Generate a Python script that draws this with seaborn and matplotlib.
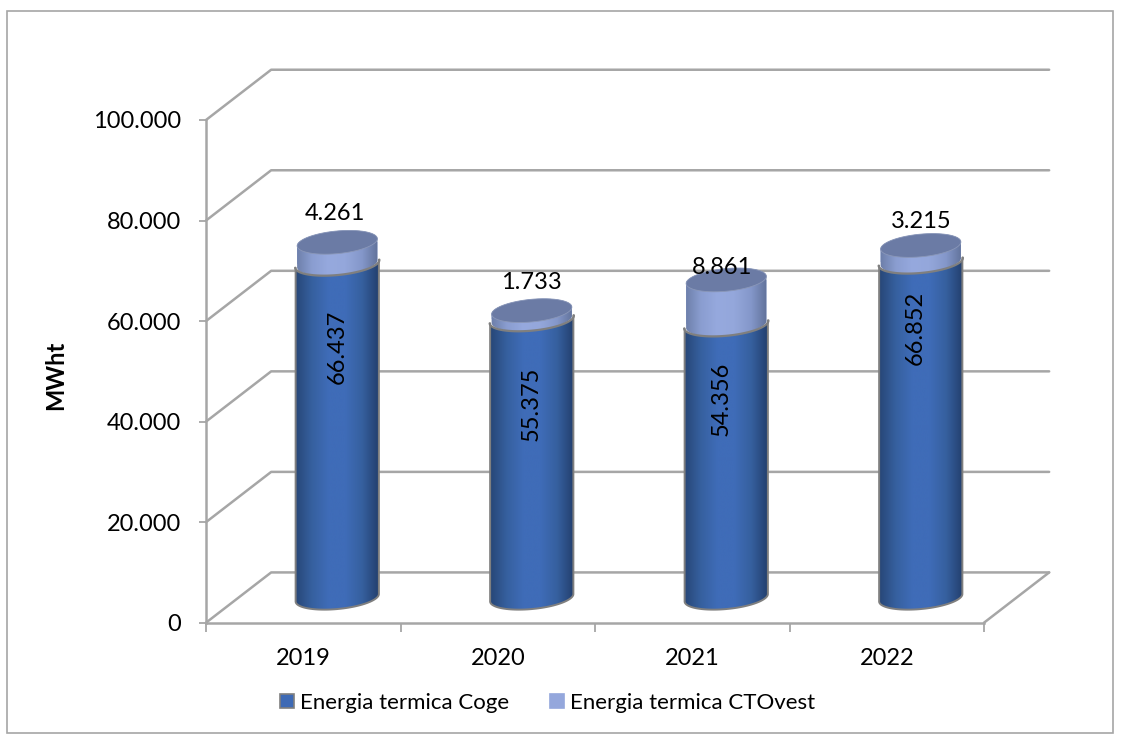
import numpy as np
import pandas as pd
import seaborn as sns
import matplotlib.pyplot as plt
from matplotlib.colors import LinearSegmentedColormap
from matplotlib.patches import Patch, Rectangle, PathPatch
from matplotlib.path import Path
from matplotlib.ticker import FuncFormatter
from matplotlib.transforms import Affine2D, IdentityTransform

# Data
years = ["2019", "2020", "2021", "2022"]
coge = [66437, 55375, 54356, 66852]
ctovest = [4261, 1733, 8861, 3215]
y_ticks = [0, 20000, 40000, 60000, 80000, 100000]

# Pixel helpers, the reference is 1123x737
W, H = 1123, 737
sns.set_style("white")
plt.rcParams["font.family"] = ["Lato", "DejaVu Sans"]
plt.rcParams["text.color"] = "black"
plt.rcParams["axes.labelcolor"] = "black"
plt.rcParams["xtick.labelcolor"] = "black"
plt.rcParams["ytick.labelcolor"] = "black"
GRID = "#a6a6a6"

fig = plt.figure(figsize=(W / 100, H / 100), dpi=100)
ax = fig.add_axes([206 / W, (H - 622.7) / H, 778 / W, 502.7 / H])

df = pd.DataFrame({"year": years, "coge": coge, "ctovest": ctovest})
sns.barplot(data=df, x="year", y="coge", color="#3e6ab5", width=0.43, saturation=1, ax=ax)
sns.barplot(data=df, x="year", y="ctovest", bottom=df["coge"], color="#94a7dc", width=0.43, saturation=1, ax=ax)
ax.set_xlim(-0.5, 3.5)
ax.set_ylim(0, 100000)

# Axis styling
for s in ["top", "right"]:
    ax.spines[s].set_visible(False)
for s in ["left", "bottom"]:
    ax.spines[s].set_color(GRID)
    ax.spines[s].set_linewidth(1.8)
ax.patch.set_alpha(0)
ax.set_yticks(y_ticks)
ax.yaxis.set_major_formatter(FuncFormatter(lambda v, p: f"{int(v):,}".replace(",", ".")))
ax.set_xticks(np.arange(-0.5, 4), minor=True)
ax.tick_params(axis="x", which="major", length=0, pad=18, labelsize=17)
ax.tick_params(axis="x", which="minor", bottom=True, length=6.5, width=1.3, color=GRID, direction="out")
ax.tick_params(axis="y", length=5, width=1.3, color=GRID, direction="out", left=True, pad=13, labelsize=17)
ax.set_xlabel("")
ax.set_ylabel("MWht", fontsize=17, fontweight="bold", va="center")
ax.yaxis.set_label_coords((56 - 206) / 778, (622.7 - 375) / 502.7)

# Fake 3D walls, depth is about a third of a category and 10.000 MWht
depth_x, depth_y = 0.335, 10000
for v in y_ticks:
    ax.plot([-0.5, -0.5 + depth_x, 3.5 + depth_x], [v, v + depth_y, v + depth_y],
            color=GRID, lw=1.8, clip_on=False, zorder=1, solid_joinstyle="round")
ax.plot([3.5, 3.5 + depth_x], [0, depth_y], color=GRID, lw=1.8, clip_on=False, zorder=1)

# Gradients for the cylinders
blue = LinearSegmentedColormap.from_list("b", ["#274676", "#36609f", "#3f6cb8", "#3f6cb8", "#36609f", "#233f6e"])
light = LinearSegmentedColormap.from_list("l", ["#6a7ca6", "#8a9dd0", "#96a9de", "#94a7db", "#8497ca", "#5f7098"])
grad = np.linspace(0, 1, 256).reshape(1, -1)

shift = Affine2D().translate(34, 25)
to_px = ax.transData + shift
ident = IdentityTransform()
tilt = np.radians(5.5)
minor = 11.3


def arc(cx, cy, a, start, stop):
    t = np.linspace(start, stop, 60)
    x = cx + a * np.cos(t) * np.cos(tilt) - minor * np.sin(t) * np.sin(tilt)
    y = cy + a * np.cos(t) * np.sin(tilt) + minor * np.sin(t) * np.cos(tilt)
    return np.column_stack([x, y])


def segment(bar, cmap, upper):
    x0, w, y0, h = bar.get_x(), bar.get_width(), bar.get_y(), bar.get_height()
    (px0, py0), (px1, py1) = to_px.transform([(x0, y0), (x0 + w, y0 + h)])
    cx = (px0 + px1) / 2
    a = (px1 - px0) / 2 - (1.5 if upper else 0)
    low = arc(cx, py0, a, np.pi, 2 * np.pi)
    top = arc(cx, py1, a, 2 * np.pi, np.pi) if not upper else arc(cx, py1, a, 0, np.pi)
    pts = np.vstack([low, top, low[:1]])
    path = Path(pts)
    im = ax.imshow(grad, cmap=cmap, aspect="auto", zorder=3 if not upper else 4,
                   extent=(x0, x0 + w, y0 - 3500, y0 + h + 3500), interpolation="bilinear")
    im.set_transform(to_px)
    im.set_clip_path(path, ident)
    bar.set_transform(to_px)
    bar.set_clip_path(path, ident)
    bar.set_edgecolor("none")
    return low, top, cx, a, py0, py1


n = len(years)
for i in range(n):
    bar_low, bar_up = ax.patches[i], ax.patches[n + i]
    low, top, cx, a, py0, py1 = segment(bar_low, blue, False)
    edge = np.vstack([top[-1:], low, top[:1]])
    ax.plot(edge[:, 0], edge[:, 1], transform=ident, color="#7f7f7f", lw=1.4, zorder=3.5, clip_on=False)

    low2, top2, cx2, a2, py02, py12 = segment(bar_up, light, True)
    face = PathPatch(Path(arc(cx2, py12, a2, 0, 2 * np.pi)), transform=ident,
                     facecolor="#6b7ba5", edgecolor="#8a97b8", lw=0.6, zorder=5, clip_on=False)
    ax.add_patch(face)
    # grey seam where the two pieces meet
    seam = arc(cx, py02, a + 0.5, np.pi, 2 * np.pi)
    ax.plot(seam[:, 0], seam[:, 1], transform=ident, color="#7f7f7f", lw=1.6, zorder=6, clip_on=False)

ax.set_xlim(-0.5, 3.5)
ax.set_ylim(0, 100000)

# Data labels, placed where the reference has them
top_x = [335, 531, 722, 921]
top_y = [212, 281, 266, 219]
mid_x = [337, 531, 721, 915]
mid_y = [347, 404, 399, 328]
for i in range(n):
    fig.text(top_x[i] / W, 1 - top_y[i] / H, f"{ctovest[i]:,}".replace(",", "."),
             ha="center", va="center_baseline", fontsize=17, zorder=10)
    fig.text(mid_x[i] / W, 1 - mid_y[i] / H, f"{coge[i]:,}".replace(",", "."),
             ha="center", va="center", rotation=90, fontsize=17, zorder=10)

# Legend
handles = [Patch(facecolor="#3e6ab5", edgecolor="#7f7f7f", lw=1.2, label="Energia termica Coge"),
           Patch(facecolor="#94a7dc", edgecolor="#94a7dc", lw=1.2, label="Energia termica CTOvest")]
fig.legend(handles=handles, loc="center", bbox_to_anchor=(547.5 / W, 1 - 703 / H), ncol=2, frameon=False,
           fontsize=16, handlelength=0.63, handleheight=0.63, handletextpad=0.27, columnspacing=1.85)

# Outer border of the chart
fig.add_artist(Rectangle((7 / W, 1 - 733 / H), 1106 / W, 722.5 / H, transform=fig.transFigure,
                         fill=False, edgecolor=GRID, lw=1.2))

fig.savefig("out.png", dpi=100)
plt.close(fig)
